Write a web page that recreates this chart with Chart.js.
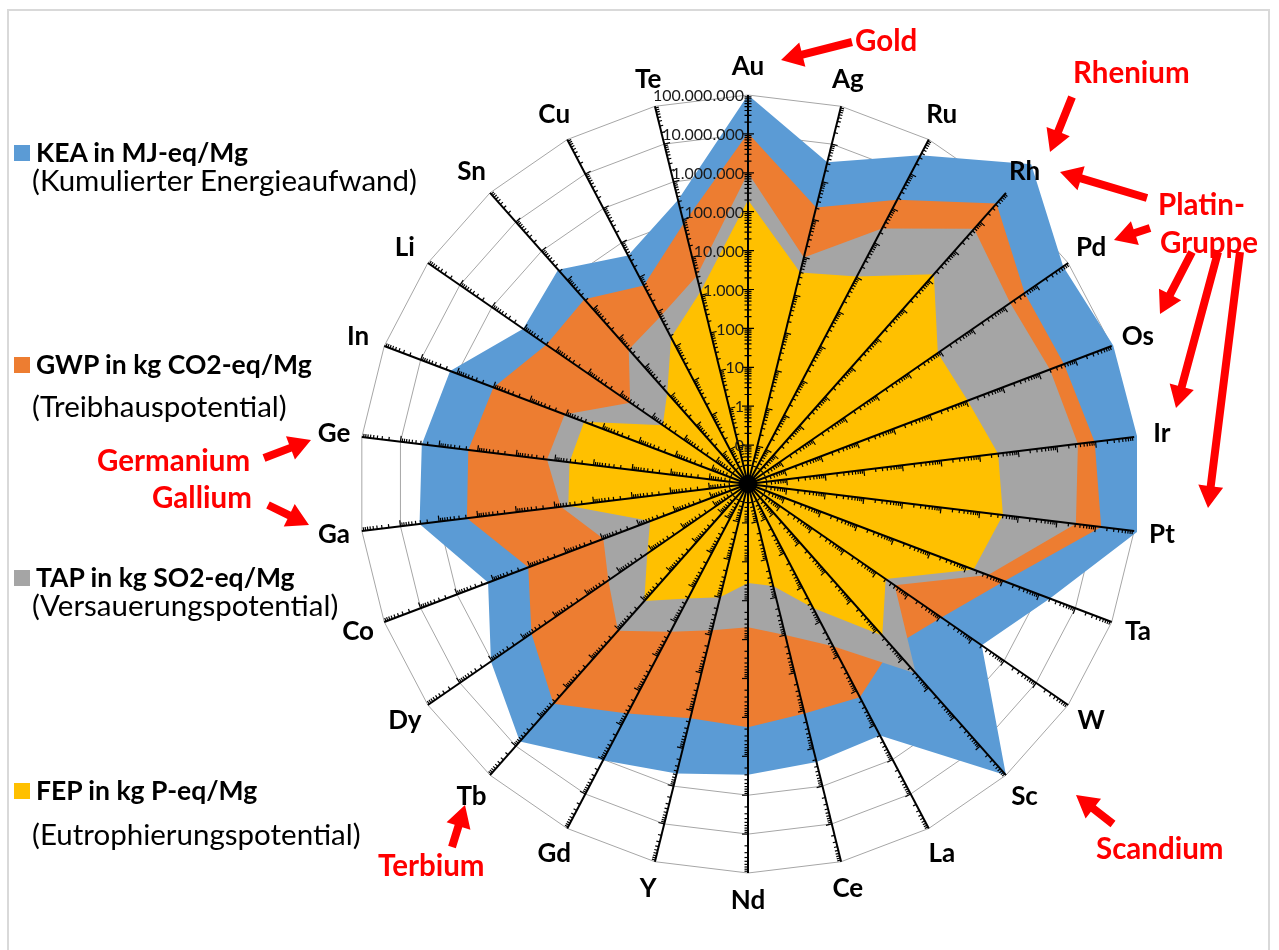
<!DOCTYPE html>
<html>
<head>
<meta charset="utf-8">
<script src="https://cdn.jsdelivr.net/npm/chart.js@4.4.1/dist/chart.umd.min.js"></script>
<style>
  body { margin: 0; background: #fff; font-family: Lato, "Open Sans", sans-serif; }
  #wrap { position: relative; width: 1279px; height: 950px; overflow: hidden; }
  #frame { position: absolute; left: 7px; top: 9px; width: 1263px; height: 980px; border: 2px solid #d9d9d9; box-sizing: border-box; }
  #chart { position: absolute; left: 0; top: 0; }
  #arrows { position: absolute; left: 0; top: 0; }
  .sw { position: absolute; width: 16px; height: 16px; }
  .lb { position: absolute; font-weight: bold; font-size: 26.5px; color: #000; white-space: nowrap; line-height: 1; }
  .ls { position: absolute; font-size: 29.5px; color: #000; white-space: nowrap; line-height: 1; }
  .red { position: absolute; font-weight: bold; font-size: 29.5px; color: #ff0000; white-space: nowrap; line-height: 1; }
</style>
</head>
<body>
<div id="wrap">
  <div id="frame"></div>
  <canvas id="chart" width="1279" height="950"></canvas>
  <svg id="arrows" width="1279" height="950"></svg>

  <div class="sw" style="left:14px;top:145px;background:#5b9bd5"></div>
  <div class="lb" style="left:36px;top:139px">KEA in MJ-eq/Mg</div>
  <div class="ls" style="left:32px;top:165px">(Kumulierter Energieaufwand)</div>

  <div class="sw" style="left:14px;top:357px;background:#ed7d31"></div>
  <div class="lb" style="left:36px;top:351px">GWP in kg CO2-eq/Mg</div>
  <div class="ls" style="left:32px;top:391px">(Treibhauspotential)</div>

  <div class="sw" style="left:14px;top:570px;background:#a5a5a5"></div>
  <div class="lb" style="left:36px;top:564px">TAP in kg SO2-eq/Mg</div>
  <div class="ls" style="left:32px;top:590px">(Versauerungspotential)</div>

  <div class="sw" style="left:14px;top:783px;background:#ffc000"></div>
  <div class="lb" style="left:36px;top:777px">FEP in kg P-eq/Mg</div>
  <div class="ls" style="left:32px;top:819px">(Eutrophierungspotential)</div>

  <div class="red" style="left:855px;top:25px">Gold</div>
  <div class="red" style="left:1073px;top:57px">Rhenium</div>
  <div class="red" style="left:1158px;top:189px">Platin-</div>
  <div class="red" style="left:1160px;top:227px">Gruppe</div>
  <div class="red" style="left:97px;top:445px">Germanium</div>
  <div class="red" style="left:152px;top:482px">Gallium</div>
  <div class="red" style="left:378px;top:850px">Terbium</div>
  <div class="red" style="left:1096px;top:833px">Scandium</div>
</div>

<script>
// axis categories (clockwise from top)
const elements = ['Au', 'Ag', 'Ru', 'Rh', 'Pd', 'Os', 'Ir', 'Pt', 'Ta', 'W', 'Sc', 'La', 'Ce',
                  'Nd', 'Y', 'Gd', 'Tb', 'Dy', 'Co', 'Ga', 'Ge', 'In', 'Li', 'Sn', 'Cu', 'Te'];

// KEA in MJ-eq/Mg
const kea = [1e8, 3.3e6, 3.5e7, 9.5e8, 7e7, 1.1e8, 1.2e8, 1.25e8, 2e6, 2e5, 1e8, 2e5, 2.3e5,
             3e5, 4.6e5, 1.05e6, 7e6, 1.07e6, 1.4e5, 3.2e6, 2.8e6, 1.55e6, 1.05e5, 2.3e5, 4.3e4, 3.3e5];
// GWP in kg CO2-eq/Mg
const gwp = [1.05e7, 2.1e5, 1.8e6, 4.3e7, 4.4e6, 4.9e6, 9.5e6, 1.4e7, 1.1e5, 1.1e4, 4e3, 1.55e4, 1.2e4,
             1.8e4, 1.6e4, 4.6e4, 3.5e5, 5.8e4, 1.1e4, 1.9e5, 1.75e5, 1e5, 2e4, 2.2e4, 5.8e3, 8e4];
// TAP in kg SO2-eq/Mg
const tap = [1e6, 1e4, 2.6e5, 5.8e6, 1.55e6, 2e6, 3.5e6, 3.1e6, 4e4, 380, 3.2e4, 510, 100,
             48, 74, 195, 1100, 230, 95, 700, 1600, 1100, 48, 420, 720, 3200];
// FEP in kg P-eq/Mg
const fep = [2e5, 4e3, 1.05e4, 1.6e5, 8.5e3, 1.1e4, 3e4, 4e4, 1.6e4, 200, 1600, 40, 5,
             3.5, 10, 21, 105, 14, 4.9, 450, 420, 320, 4.6, 13.5, 180, 1250];

// log axis labels
const tickValues = [1e8, 1e7, 1e6, 1e5, 1e4, 1e3, 100, 10, 1, 0.1];
const tickLabels = ['100.000.000', '10.000.000', '1.000.000', '100.000', '10.000', '1.000', '100', '10', '1', '0'];

// red annotation arrows [fromX, fromY, toX, toY]
const arrows = [
  [852, 42, 781, 60],
  [1072, 97, 1050, 152],
  [1147, 198, 1060, 172],
  [1150, 228, 1114, 240],
  [1192, 252, 1160, 314],
  [1218, 252, 1176, 408],
  [1240, 252, 1208, 508],
  [264, 458, 311, 440],
  [268, 505, 309, 525],
  [452, 847, 465, 805],
  [1113, 824, 1076, 795]
];

const svg = document.getElementById('arrows');
arrows.forEach(([x1, y1, x2, y2]) => {
  const L = Math.hypot(x2 - x1, y2 - y1);
  const ux = (x2 - x1) / L, uy = (y2 - y1) / L, nx = -uy, ny = ux;
  const w = 4, hw = 12.5, hl = 22;
  const bx = x2 - ux * hl, by = y2 - uy * hl;
  const pts = [[x1 + nx * w, y1 + ny * w], [bx + nx * w, by + ny * w], [bx + nx * hw, by + ny * hw], [x2, y2],
               [bx - nx * hw, by - ny * hw], [bx - nx * w, by - ny * w], [x1 - nx * w, y1 - ny * w]];
  const poly = document.createElementNS('http://www.w3.org/2000/svg', 'polygon');
  poly.setAttribute('points', pts.map(p => p.join(',')).join(' '));
  poly.setAttribute('fill', '#ff0000');
  svg.appendChild(poly);
});

const log = arr => arr.map(v => Math.log10(v));

// black axes with log ticks, drawn over the areas
const logAxes = {
  id: 'logAxes',
  afterDatasetsDraw(chart) {
    const s = chart.scales.r, ctx = chart.ctx;
    const cx = s.xCenter, cy = s.yCenter;
    ctx.save();
    ctx.strokeStyle = '#000';
    elements.forEach((el, i) => {
      const end = s.getPointPosition(i, s.drawingArea);
      const a = end.angle;
      ctx.lineWidth = 2;
      ctx.beginPath();
      ctx.moveTo(cx, cy);
      ctx.lineTo(end.x, end.y);
      ctx.stroke();
      ctx.lineWidth = 1.2;
      for (let d = -2; d < 8; d++) {
        for (let k = 1; k <= 9; k++) {
          const r = s.getDistanceFromCenterForValue(d + Math.log10(k));
          if (r < 12) continue;
          const len = k === 1 ? 6 : 3.5;
          const px = cx + Math.cos(a) * r, py = cy + Math.sin(a) * r;
          ctx.beginPath();
          ctx.moveTo(px, py);
          ctx.lineTo(px - Math.sin(a) * len, py + Math.cos(a) * len);
          if (i === 0) ctx.moveTo(px, py), ctx.lineTo(px + Math.sin(a) * len, py - Math.cos(a) * len);
          ctx.stroke();
        }
      }
    });
    ctx.fillStyle = '#000';
    ctx.beginPath();
    ctx.arc(cx, cy, 9, 0, Math.PI * 2);
    ctx.fill();

    ctx.font = '16px Lato';
    ctx.fillStyle = '#1a1a1a';
    ctx.textAlign = 'right';
    ctx.textBaseline = 'middle';
    tickValues.forEach((v, i) => {
      const r = s.getDistanceFromCenterForValue(Math.log10(v));
      ctx.fillText(tickLabels[i], cx - 4, cy - r + 1);
    });

    ctx.font = 'bold 26px Lato';
    ctx.fillStyle = '#000';
    ctx.textAlign = 'center';
    elements.forEach((el, i) => {
      const p = s.getPointPosition(i, s.drawingArea + 28);
      ctx.fillText(el, p.x, p.y);
    });
    ctx.restore();
  }
};

new Chart(document.getElementById('chart'), {
  type: 'radar',
  data: {
    labels: elements,
    datasets: [
      { label: 'KEA in MJ-eq/Mg', data: log(kea), backgroundColor: '#5b9bd5', order: 4 },
      { label: 'GWP in kg CO2-eq/Mg', data: log(gwp), backgroundColor: '#ed7d31', order: 3 },
      { label: 'TAP in kg SO2-eq/Mg', data: log(tap), backgroundColor: '#a5a5a5', order: 2 },
      { label: 'FEP in kg P-eq/Mg', data: log(fep), backgroundColor: '#ffc000', order: 1 }
    ].map(ds => Object.assign(ds, { fill: 'start', borderWidth: 0, pointRadius: 0, clip: false }))
  },
  options: {
    responsive: false,
    animation: false,
    layout: { padding: { left: 359, right: 142, top: 95, bottom: 77 } },
    plugins: { legend: { display: false }, tooltip: { enabled: false } },
    scales: {
      r: {
        min: -2,
        max: 8,
        ticks: { display: false, stepSize: 1 },
        pointLabels: { display: false },
        angleLines: { display: false },
        grid: { color: '#a6a6a6', lineWidth: 1 }
      }
    }
  },
  plugins: [logAxes]
});
</script>
</body>
</html>
